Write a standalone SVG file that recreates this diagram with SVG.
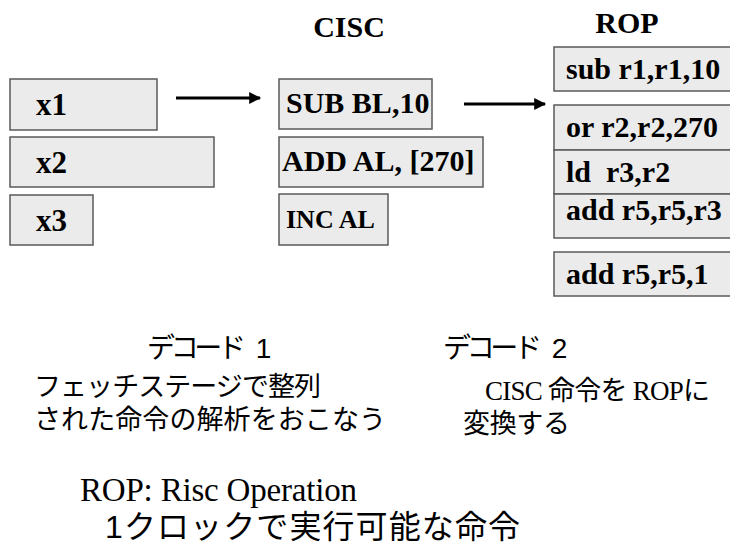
<svg xmlns="http://www.w3.org/2000/svg" width="730" height="547" viewBox="0 0 730 547">
  <style>
    .box { fill: #ebebeb; stroke: #5a5a5a; stroke-width: 1.5; }
    .b { font-family: "Liberation Serif", "Times New Roman", serif; font-weight: bold; fill: #000; }
    .jp { font-family: "Liberation Sans", "Noto Sans CJK JP", sans-serif; fill: #000; }
    .mix { font-family: "Liberation Serif", "Noto Sans CJK JP", serif; fill: #000; }
    .arrow { stroke: #000; stroke-width: 3; fill: none; marker-end: url(#head); }
  </style>
  <defs>
    <marker id="head" viewBox="0 0 10 10" refX="9" refY="5" markerWidth="5" markerHeight="4" orient="auto" markerUnits="strokeWidth">
      <path d="M0,0 L10,5 L0,10 Z" fill="#000"/>
    </marker>
  </defs>
  <rect width="730" height="547" fill="#fff"/>

  <!-- column titles -->
  <text class="b" x="349" y="37" font-size="30" text-anchor="middle">CISC</text>
  <text class="b" x="627" y="33" font-size="30" text-anchor="middle">ROP</text>

  <!-- fetched instruction slots -->
  <g id="x1"><rect class="box" x="10" y="79" width="147" height="51"/><text class="b" x="36" y="115" font-size="31">x1</text></g>
  <g id="x2"><rect class="box" x="10" y="137" width="204" height="50"/><text class="b" x="36" y="173" font-size="31">x2</text></g>
  <g id="x3"><rect class="box" x="10" y="195" width="83" height="50"/><text class="b" x="36" y="231" font-size="31">x3</text></g>

  <!-- CISC instructions -->
  <g id="cisc-sub"><rect class="box" x="279" y="79" width="153" height="50"/><text class="b" x="286" y="113" font-size="30">SUB BL,10</text></g>
  <g id="cisc-add"><rect class="box" x="279" y="137" width="204" height="50"/><text class="b" x="282" y="171" font-size="30">ADD AL, [270]</text></g>
  <g id="cisc-inc"><rect class="box" x="279" y="194" width="109" height="51"/><text class="b" x="286" y="228" font-size="26">INC AL</text></g>

  <!-- ROP micro-operations -->
  <g id="rop-sub"><rect class="box" x="554" y="47" width="180" height="44"/><text class="b" x="566" y="79" font-size="30">sub r1,r1,10</text></g>
  <g id="rop-or"><rect class="box" x="554" y="105" width="180" height="45"/><text class="b" x="566" y="137" font-size="30">or r2,r2,270</text></g>
  <g id="rop-ld"><rect class="box" x="554" y="150" width="180" height="44"/><text class="b" x="566" y="182" font-size="30" xml:space="preserve">ld  r3,r2</text></g>
  <g id="rop-add1"><rect class="box" x="554" y="194" width="180" height="44"/><text class="b" x="566" y="220" font-size="30">add r5,r5,r3</text></g>
  <g id="rop-add2"><rect class="box" x="554" y="252" width="180" height="44"/><text class="b" x="566" y="284" font-size="30">add r5,r5,1</text></g>

  <!-- connectors -->
  <g id="connectors">
    <line class="arrow" x1="176" y1="98" x2="260" y2="98"/>
    <line class="arrow" x1="464" y1="104" x2="545" y2="104"/>
  </g>

  <!-- decode stage notes -->
  <text class="jp" x="147" y="358" font-size="28"><tspan textLength="99">デコード</tspan><tspan x="248"> 1</tspan></text>
  <text class="jp" x="34" y="396" font-size="27" textLength="287">フェッチステージで整列</text>
  <text class="jp" x="34" y="429" font-size="27" textLength="352">された命令の解析をおこなう</text>

  <text class="jp" x="443" y="358" font-size="28"><tspan textLength="99">デコード</tspan><tspan x="544"> 2</tspan></text>
  <text class="mix" x="485" y="400" font-size="27" textLength="225">CISC 命令を ROPに</text>
  <text class="jp" x="463" y="433" font-size="27" textLength="107">変換する</text>

  <text class="mix" x="80" y="501" font-size="33" textLength="277">ROP: Risc Operation</text>
  <text class="jp" x="105" y="538" font-size="32" textLength="415">1クロックで実行可能な命令</text>
</svg>
